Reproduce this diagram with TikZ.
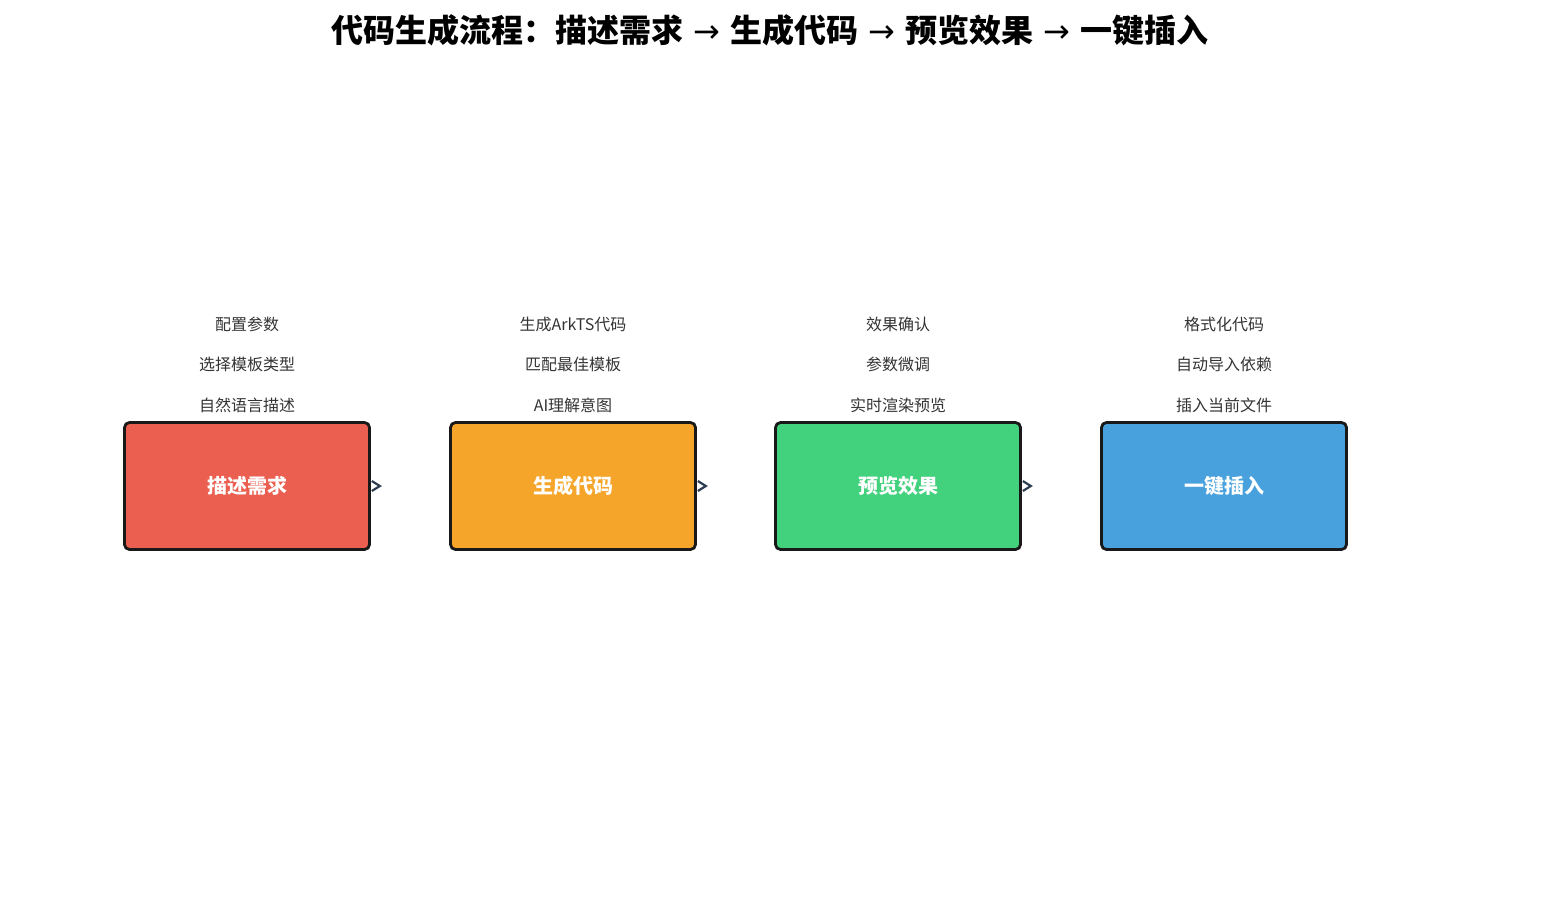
\documentclass[tikz,border=0pt]{standalone}
\usepackage{fontspec}
\setmainfont{Noto Sans CJK SC}
\newfontfamily\arrowfont{DejaVu Sans}
\usetikzlibrary{positioning,arrows.meta,calc}
\definecolor{boxred}{HTML}{EB5F50}
\definecolor{boxorange}{HTML}{F5A62A}
\definecolor{boxgreen}{HTML}{42D17C}
\definecolor{boxblue}{HTML}{48A1DD}
\definecolor{arrowgray}{HTML}{2C3E50}
\definecolor{textgray}{HTML}{333333}
\newcommand{\flowarrow}{{\arrowfont\mdseries\ →\ }}
\tikzset{
  flowstep/.style={draw=black!90,line width=1.4pt,rounded corners=2.5pt,minimum width=122.5pt,minimum height=63.5pt,inner sep=0pt,text=white,font=\fontsize{10}{12}\selectfont\bfseries},
  note/.style={text=textgray,inner sep=0pt,font=\fontsize{8}{10}\selectfont},
  tip/.style={draw=arrowgray,line width=1.1pt,-{Straight Barb[length=4pt,width=5pt]}},
}
\begin{document}
\begin{tikzpicture}[x=0.5pt,y=0.5pt,yscale=-1]
  \useasboundingbox (0,0) rectangle (1541,906);

  % title
  \node[font=\fontsize{16}{19}\selectfont\bfseries] (title) at (770,30) {代码生成流程：描述需求\flowarrow 生成代码\flowarrow 预览效果\flowarrow 一键插入};

  % steps
  \node[flowstep,fill=boxred] (describe) at (247,486) {描述需求};
  \node[flowstep,fill=boxorange] (generate) at (573,486) {生成代码};
  \node[flowstep,fill=boxgreen] (preview) at (898,486) {预览效果};
  \node[flowstep,fill=boxblue] (insert) at (1224,486) {一键插入};

  % notes
  \foreach \s/\a/\b/\c in {describe/配置参数/选择模板类型/自然语言描述,
                           generate/生成ArkTS代码/匹配最佳模板/AI理解意图,
                           preview/效果确认/参数微调/实时渲染预览,
                           insert/格式化代码/自动导入依赖/插入当前文件}{
    \node[note] (\s-c) at ($(\s.north)+(0,-16)$) {\c};
    \node[note] (\s-b) at ($(\s.north)+(0,-57)$) {\b};
    \node[note] (\s-a) at ($(\s.north)+(0,-97)$) {\a};
  }

  % arrows
  \foreach \s in {describe,generate,preview}{
    \coordinate (\s-tip) at ($(\s.east)+(11,0)$);
    \draw[tip] ($(\s-tip)+(-4,0)$) -- (\s-tip);
  }
\end{tikzpicture}
\end{document}
